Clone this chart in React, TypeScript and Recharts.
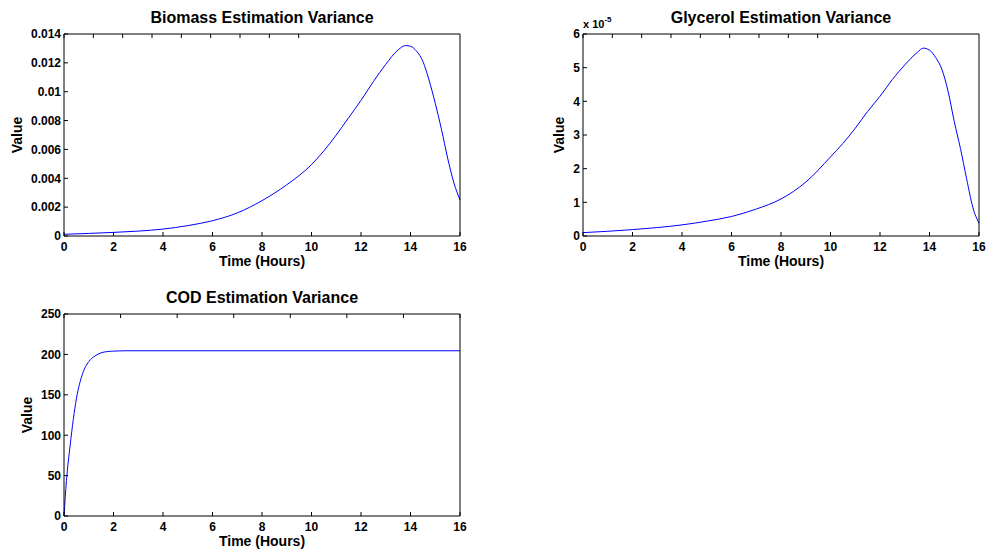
import React from 'react';
import { LineChart, Line, XAxis, YAxis, Label } from 'recharts';

// time axis (hours) shared by all panels
const timeTicks = [0, 2, 4, 6, 8, 10, 12, 14, 16];

// Biomass estimation variance
const biomassTime = [0, 1, 2, 3, 4, 5, 6, 7, 8, 9, 10, 10.5, 11, 11.5, 12, 12.5, 13, 13.5, 13.8, 14, 14.25, 14.5, 14.75, 15, 15.25, 15.5, 15.75, 16];
const biomassValue = [0.00012, 0.00018, 0.00025, 0.00034, 0.00048, 0.00072, 0.00106, 0.0016, 0.00245, 0.00355, 0.00495, 0.0059, 0.007, 0.0082, 0.0094, 0.0107, 0.0119, 0.0129, 0.0132, 0.01315, 0.0128, 0.0121, 0.0108, 0.0092, 0.0074, 0.0054, 0.0037, 0.0025];
const biomassTicks = [0, 0.002, 0.004, 0.006, 0.008, 0.01, 0.012, 0.014];

// Glycerol estimation variance, in units of 10^-5
const glycerolTime = [0, 1, 2, 3, 4, 5, 6, 7, 8, 9, 10, 10.5, 11, 11.5, 12, 12.5, 13, 13.5, 13.75, 14, 14.25, 14.5, 14.75, 15, 15.25, 15.5, 15.75, 16];
const glycerolValue = [0.1, 0.14, 0.19, 0.25, 0.33, 0.44, 0.58, 0.8, 1.1, 1.6, 2.35, 2.75, 3.2, 3.7, 4.15, 4.65, 5.08, 5.45, 5.58, 5.52, 5.3, 4.95, 4.3, 3.4, 2.6, 1.7, 0.85, 0.38];
const glycerolTicks = [0, 1, 2, 3, 4, 5, 6];

// COD estimation variance
const codTime = [0, 0.1, 0.25, 0.5, 0.75, 1, 1.25, 1.5, 1.75, 2, 2.5, 4, 8, 12, 16];
const codValue = [0, 44, 88, 145, 176, 191, 198, 202, 203.5, 204, 204.5, 204.5, 204.5, 204.5, 204.5];
const codTicks = [0, 50, 100, 150, 200, 250];

const FONT = '"Liberation Sans", Arial, Helvetica, sans-serif';
const TICK_LEN = 4;

const toRows = (t: number[], v: number[]) => t.map((x, i) => ({ t: x, v: v[i] }));

// MATLAB style ticks: short marks pointing into the plot box
const BottomTick = (props: any) => {
  const { x, y, payload } = props;
  return (
    <g>
      <line x1={x} x2={x} y1={y} y2={y - TICK_LEN} stroke="#000" />
      <text x={x} y={y + 14.5} textAnchor="middle" fill="#000" fontSize={12} fontWeight="bold" fontFamily={FONT}>
        {payload.value}
      </text>
    </g>
  );
};

const LeftTick = (props: any) => {
  const { x, y, payload } = props;
  return (
    <g>
      <line x1={x} x2={x + TICK_LEN} y1={y} y2={y} stroke="#000" />
      <text x={x - 3} y={y + 4.3} textAnchor="end" fill="#000" fontSize={12} fontWeight="bold" fontFamily={FONT}>
        {payload.value}
      </text>
    </g>
  );
};

const TopTick = (props: any) => {
  const { x, y } = props;
  return <line x1={x} x2={x} y1={y} y2={y + TICK_LEN} stroke="#000" />;
};

const RightTick = (props: any) => {
  const { x, y } = props;
  return <line x1={x} x2={x - TICK_LEN} y1={y} y2={y} stroke="#000" />;
};

interface PanelProps {
  title: string;
  data: { t: number; v: number }[];
  yTicks: number[];
  left: number;
  top: number;
  width: number;
  yAxisWidth: number;
  yLabelOffset: number;
  exponent?: string;
}

const Panel: React.FC<PanelProps> = ({ title, data, yTicks, left, top, width, yAxisWidth, yLabelOffset, exponent }) => {
  const yDomain = [yTicks[0], yTicks[yTicks.length - 1]];
  const line = { stroke: '#000' };
  return (
    <div style={{ position: 'absolute', left, top }}>
      <LineChart
        width={width}
        height={280}
        data={data}
        margin={{ top: 33, right: width - yAxisWidth - 396 - 1, left: 0, bottom: 0 }}
      >
        <XAxis
          dataKey="t"
          type="number"
          domain={[0, 16]}
          ticks={timeTicks}
          height={44}
          tickSize={0}
          tickMargin={0}
          tick={<BottomTick />}
          axisLine={line}
          tickLine={false}
          interval={0}
        >
          <Label value="Time (Hours)" position="insideBottom" offset={14} fill="#000" fontSize={14} fontWeight="bold" fontFamily={FONT} />
        </XAxis>
        <XAxis
          xAxisId="top"
          orientation="top"
          type="number"
          domain={[0, 16]}
          ticks={timeTicks}
          height={1}
          tickSize={0}
          tickMargin={0}
          tick={<TopTick />}
          axisLine={line}
          tickLine={false}
          interval={0}
        >
          <Label value={title} position="top" offset={10} fill="#000" fontSize={16} fontWeight="bold" fontFamily={FONT} />
        </XAxis>
        <YAxis
          type="number"
          domain={yDomain}
          ticks={yTicks}
          width={yAxisWidth}
          tickSize={0}
          tickMargin={0}
          tick={<LeftTick />}
          axisLine={line}
          tickLine={false}
          interval={0}
        >
          <Label
            value="Value"
            angle={-90}
            position="insideLeft"
            offset={yLabelOffset}
            style={{ textAnchor: 'middle' }}
            fill="#000"
            fontSize={14}
            fontWeight="bold"
            fontFamily={FONT}
          />
          {exponent && (
            <Label
              content={(props: any) => {
                const vb = props.viewBox || {};
                return (
                  <text x={vb.x + vb.width} y={vb.y - 6} fill="#000" fontSize={11} fontWeight="bold" fontFamily={FONT}>
                    x 10
                    <tspan dy={-6} fontSize={8}>{exponent}</tspan>
                  </text>
                );
              }}
            />
          )}
        </YAxis>
        <YAxis
          yAxisId="right"
          orientation="right"
          type="number"
          domain={yDomain}
          ticks={yTicks}
          width={1}
          tickSize={0}
          tickMargin={0}
          tick={<RightTick />}
          axisLine={line}
          tickLine={false}
          interval={0}
        />
        <Line
          type="monotone"
          dataKey="v"
          stroke="#0000ff"
          strokeWidth={1}
          dot={false}
          activeDot={false}
          isAnimationActive={false}
        />
      </LineChart>
    </div>
  );
};

export default function App() {
  return (
    <div style={{ position: 'absolute', left: 0, top: 0, width: 988, height: 552, background: '#fff' }}>
      <Panel
        title="Biomass Estimation Variance"
        data={toRows(biomassTime, biomassValue)}
        yTicks={biomassTicks}
        left={0}
        top={0}
        width={480}
        yAxisWidth={64}
        yLabelOffset={17}
      />
      <Panel
        title="Glycerol Estimation Variance"
        data={toRows(glycerolTime, glycerolValue)}
        yTicks={glycerolTicks}
        left={500}
        top={0}
        width={488}
        yAxisWidth={83}
        yLabelOffset={59}
        exponent="-5"
      />
      <Panel
        title="COD Estimation Variance"
        data={toRows(codTime, codValue)}
        yTicks={codTicks}
        left={0}
        top={280}
        width={480}
        yAxisWidth={64}
        yLabelOffset={27}
      />
    </div>
  );
}
